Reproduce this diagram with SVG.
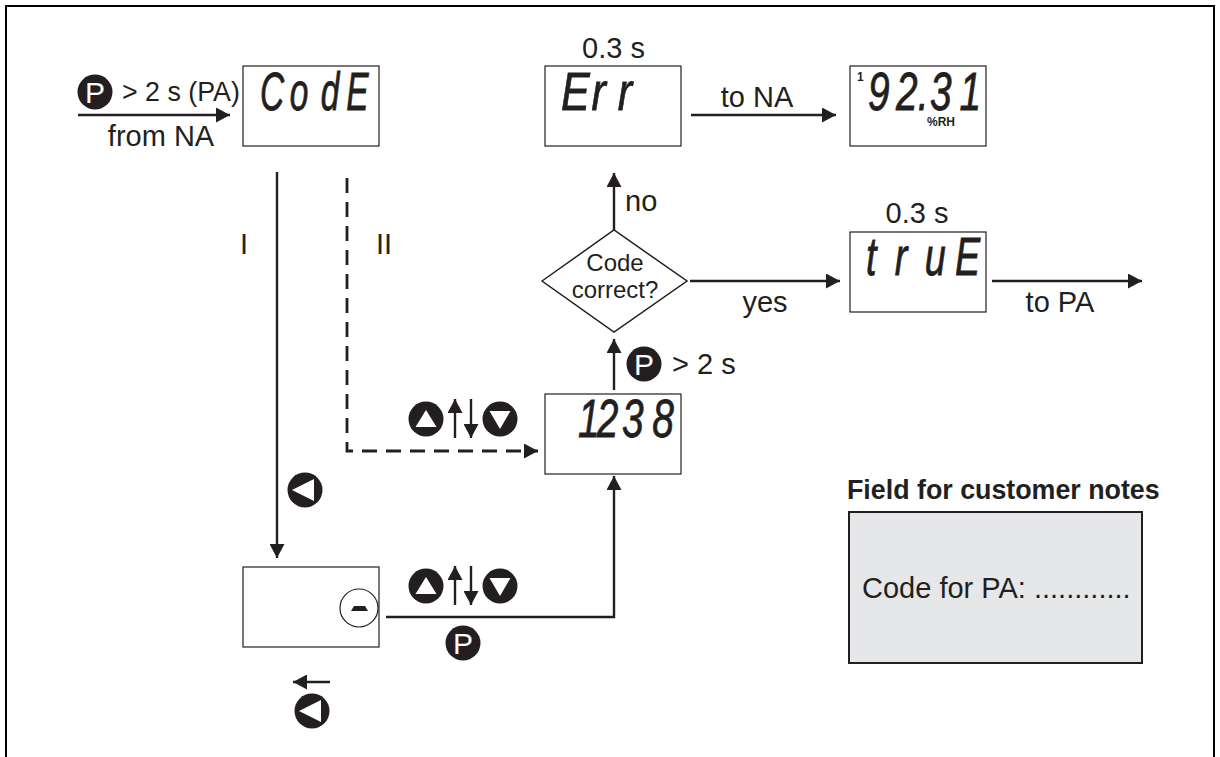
<svg xmlns="http://www.w3.org/2000/svg" width="1220" height="757" viewBox="0 0 1220 757">
<style>
text{font-family:"Liberation Sans",Arial,sans-serif;fill:#231f20}
.l{font-size:29px}
.d{font-size:24px}
.m{text-anchor:middle}
.lcd{font-style:italic;font-size:54px;stroke:#231f20;stroke-width:.8}
.box{fill:#fff;stroke:#231f20;stroke-width:1.2}
.wire{fill:none;stroke:#231f20;stroke-width:2.4}
.btn{fill:#231f20}
.pk{fill:#fff;font-size:30px;text-anchor:middle}
.tri{fill:#fff}
</style>
<defs>
<marker id="ah" markerUnits="userSpaceOnUse" markerWidth="14" markerHeight="15" refX="14" refY="7.5" orient="auto"><path d="M0 0L14 7.5L0 15z" fill="#231f20"/></marker>
<g id="updown">
<circle class="btn" cx="0" cy="0" r="17.500"/><polygon class="tri" points="0,-9 -10.500,8 10.500,8"/>
<path class="wire" d="M29 19V-20" marker-end="url(#ah)"/><path class="wire" d="M45 -20V19" marker-end="url(#ah)"/>
<circle class="btn" cx="74" cy="0" r="17.500"/><polygon class="tri" points="74,10 63.500,-8 84.500,-8"/>
</g>
<g id="left"><circle class="btn" cx="0" cy="0" r="17.500"/><polygon class="tri" points="-13,0 9,-11 9,11"/></g>
<g id="pbtn"><circle class="btn" cx="0" cy="0" r="17.500"/><text class="pk" x="0" y="11">P</text></g>
</defs>
<rect width="1220" height="757" fill="#fff"/>
<path id="frame" d="M6 757V6H1214V757" fill="none" stroke="#000" stroke-width="2"/>
<g id="connectors">
<path class="wire" d="M78 115H230" marker-end="url(#ah)"/>
<path class="wire" d="M277 172V558" marker-end="url(#ah)"/>
<path class="wire" style="stroke-width:2.800" d="M347 178V451H538" stroke-dasharray="15 9" marker-end="url(#ah)"/>
<path class="wire" d="M386 617H614V476" marker-end="url(#ah)"/>
<path class="wire" d="M614 390V339" marker-end="url(#ah)"/>
<path class="wire" d="M614 264V173" marker-end="url(#ah)"/>
<path class="wire" d="M691 115H836" marker-end="url(#ah)"/>
<path class="wire" d="M690 281H840" marker-end="url(#ah)"/>
<path class="wire" d="M992 281H1142" marker-end="url(#ah)"/>
<path class="wire" d="M330 682H293" marker-end="url(#ah)"/>
</g>
<g id="labels">
<use href="#pbtn" x="95" y="92"/>
<text x="122" y="101" font-size="26.800">&gt; 2 s (PA)</text>
<text class="l m" x="161" y="146">from NA</text>
<text class="l m" x="613.500" y="58">0.3 s</text>
<text class="l m" x="757" y="107">to NA</text>
<text class="l m" x="917" y="223">0.3 s</text>
<text class="l m" x="1060" y="312">to PA</text>
<text class="l m" x="765" y="312">yes</text>
<text class="l" x="625" y="211">no</text>
<text class="l" x="240" y="254">I</text>
<text class="l" x="376" y="254">II</text>
<use href="#pbtn" x="644" y="364"/>
<text class="l" x="672" y="374">&gt; 2 s</text>
<use href="#updown" x="426" y="419"/>
<use href="#updown" x="426" y="586"/>
<use href="#left" x="305" y="490"/>
<use href="#pbtn" x="463" y="643"/>
<use href="#left" x="312" y="711"/>
</g>
<g id="node-code"><rect class="box" x="243" y="66" width="136" height="80"/><text class="lcd" transform="translate(260 110) scale(.62 1)" x="0 48 98 139" y="0">CodE</text></g>
<g id="node-err"><rect class="box" x="545" y="66" width="136" height="80"/><text class="lcd" transform="translate(561 110) scale(.8 1)" x="0 38 71" y="0">Err</text></g>
<g id="node-value"><rect class="box" x="850" y="66" width="136" height="80"/><text x="857" y="81" font-size="12" font-weight="bold">1</text><text class="lcd" transform="translate(868 110) scale(.72 1)" x="0 39 69 86 127" y="0">92.31</text><text x="927" y="126" font-size="12" font-weight="bold">%RH</text></g>
<g id="node-true"><rect class="box" x="850" y="232" width="136" height="80"/><text class="lcd" transform="translate(866 275) scale(.7 1)" x="0 41 84 127" y="0">truE</text></g>
<g id="node-entry"><rect class="box" x="545" y="394" width="136" height="80"/><text class="lcd" transform="translate(578 437) scale(.72 1)" x="0 26 61 103" y="0">1238</text></g>
<g id="node-digit"><rect class="box" x="243" y="567" width="136" height="80"/><circle cx="359" cy="608" r="19" fill="#fff" stroke="#231f20" stroke-width="1.200"/><path d="M351 611L354 606H365L368 611z" fill="#231f20"/></g>
<g id="node-decision"><polygon points="542,281 614,230 687,281 614,332" fill="#fff" stroke="#231f20" stroke-width="1.500"/><text class="d m" x="615" y="271">Code</text><text class="d m" x="615" y="298">correct?</text></g>
<g id="node-notes"><text x="847" y="499" font-size="26.800" font-weight="bold">Field for customer notes</text><rect x="849" y="512" width="293" height="151" fill="#e6e7e9" stroke="#231f20" stroke-width="2"/><text class="l" x="862" y="598">Code for PA: ............</text></g>
</svg>
